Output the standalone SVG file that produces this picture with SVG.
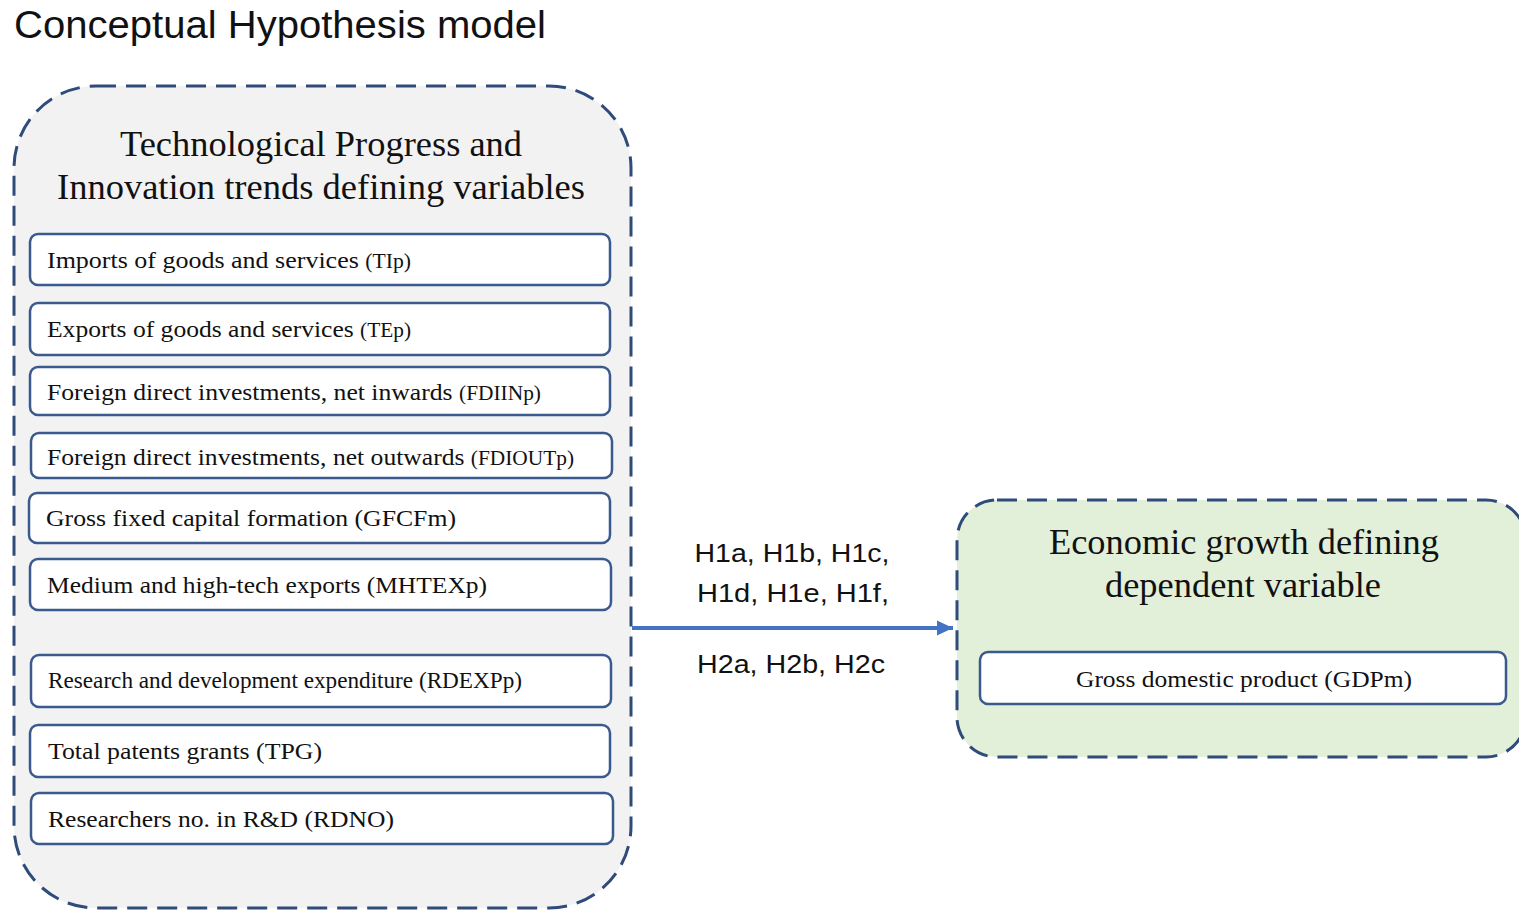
<svg xmlns="http://www.w3.org/2000/svg" width="1519" height="911" viewBox="0 0 1519 911">
<defs>
<style>
.group-box{stroke:#2e4b7a;stroke-width:3;stroke-dasharray:20 10}
.item{fill:#ffffff;stroke:#3a5a8e;stroke-width:2.5}
.serif{font-family:"Liberation Serif","Times New Roman",serif;fill:#111}
.item-text{font-size:24px}
.small{font-size:20px}
.head{font-size:36px;text-anchor:middle}
.hyp{font-family:"Liberation Sans",Arial,sans-serif;font-size:25px;fill:#111;text-anchor:middle}
</style>
<marker id="arrow" markerWidth="16" markerHeight="16" refX="16" refY="8" orient="auto" markerUnits="userSpaceOnUse">
<path d="M0,0.5 L16,8 L0,15.5 z" fill="#4472c4"/>
</marker>
</defs>
<rect width="1519" height="911" fill="#ffffff"/>
<text x="14" y="38" font-family="'Liberation Sans',Arial,sans-serif" font-size="38" fill="#111" textLength="532" lengthAdjust="spacingAndGlyphs">Conceptual Hypothesis model</text>

<g id="independent-group">
<rect class="group-box" x="14" y="86" width="617" height="822" rx="82" fill="#f2f2f2"/>
<text class="serif head" x="321" y="156" textLength="402" lengthAdjust="spacingAndGlyphs">Technological Progress and</text>
<text class="serif head" x="321" y="199" textLength="528" lengthAdjust="spacingAndGlyphs">Innovation trends defining variables</text>
</g>

<g id="node-TIp">
<rect class="item" x="30" y="234" width="580" height="51" rx="8"/>
<text class="serif item-text" x="47" y="268" textLength="364" lengthAdjust="spacingAndGlyphs">Imports of goods and services  <tspan class="small">(TIp)</tspan></text>
</g>
<g id="node-TEp">
<rect class="item" x="30" y="303" width="580" height="52" rx="8"/>
<text class="serif item-text" x="47" y="337" textLength="364" lengthAdjust="spacingAndGlyphs">Exports of goods and services <tspan class="small">(TEp)</tspan></text>
</g>
<g id="node-FDIINp">
<rect class="item" x="30" y="367" width="580" height="48" rx="8"/>
<text class="serif item-text" x="47" y="400" textLength="494" lengthAdjust="spacingAndGlyphs">Foreign direct investments, net inwards <tspan class="small">(FDIINp)</tspan></text>
</g>
<g id="node-FDIOUTp">
<rect class="item" x="31" y="433" width="581" height="45" rx="8"/>
<text class="serif item-text" x="47" y="465" textLength="527" lengthAdjust="spacingAndGlyphs">Foreign direct investments, net outwards <tspan class="small">(FDIOUTp)</tspan></text>
</g>
<g id="node-GFCFm">
<rect class="item" x="29" y="493" width="581" height="50" rx="8"/>
<text class="serif item-text" x="46" y="526" textLength="410" lengthAdjust="spacingAndGlyphs">Gross fixed capital formation (GFCFm)</text>
</g>
<g id="node-MHTEXp">
<rect class="item" x="30" y="559" width="581" height="51" rx="8"/>
<text class="serif item-text" x="47" y="593" textLength="440" lengthAdjust="spacingAndGlyphs">Medium and high-tech exports (MHTEXp)</text>
</g>
<g id="node-RDEXPp">
<rect class="item" x="31" y="655" width="580" height="52" rx="8"/>
<text class="serif item-text" x="48" y="688" textLength="474" lengthAdjust="spacingAndGlyphs">Research and development expenditure (RDEXPp)</text>
</g>
<g id="node-TPG">
<rect class="item" x="30" y="725" width="580" height="52" rx="8"/>
<text class="serif item-text" x="48" y="759" textLength="274" lengthAdjust="spacingAndGlyphs">Total patents grants (TPG)</text>
</g>
<g id="node-RDNO">
<rect class="item" x="31" y="793" width="582" height="51" rx="8"/>
<text class="serif item-text" x="48" y="827" textLength="346" lengthAdjust="spacingAndGlyphs">Researchers no. in R&amp;D (RDNO)</text>
</g>

<g id="dependent-group">
<rect class="group-box" x="957" y="500" width="569" height="257" rx="40" fill="#e2efd9"/>
<text class="serif head" x="1244" y="554" textLength="390" lengthAdjust="spacingAndGlyphs">Economic growth defining</text>
<text class="serif head" x="1243" y="597" textLength="276" lengthAdjust="spacingAndGlyphs">dependent variable</text>
</g>
<g id="node-GDPm">
<rect class="item" x="980" y="652" width="526" height="52" rx="8"/>
<text class="serif item-text" x="1244" y="687" text-anchor="middle" textLength="336" lengthAdjust="spacingAndGlyphs">Gross domestic product (GDPm)</text>
</g>

<g id="connectors">
<line x1="632" y1="628" x2="953" y2="628" stroke="#4472c4" stroke-width="4" marker-end="url(#arrow)"/>
<text class="hyp" x="792" y="562" textLength="195" lengthAdjust="spacingAndGlyphs">H1a, H1b, H1c,</text>
<text class="hyp" x="793" y="602" textLength="192" lengthAdjust="spacingAndGlyphs">H1d, H1e, H1f,</text>
<text class="hyp" x="791" y="673" textLength="188" lengthAdjust="spacingAndGlyphs">H2a, H2b, H2c</text>
</g>
</svg>
